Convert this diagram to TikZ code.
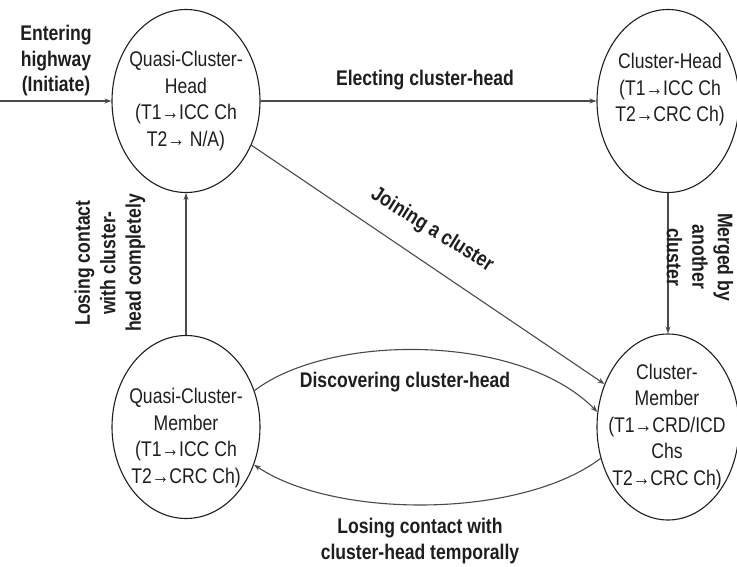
\documentclass[tikz,border=0pt]{standalone}
\usepackage{fontspec}
\setmainfont{Liberation Sans}[FakeStretch=0.83]
\usetikzlibrary{shapes.geometric,arrows.meta}
\definecolor{ink}{HTML}{1E1E1E}
\definecolor{edge}{HTML}{4A4A4A}
\begin{document}
\begin{tikzpicture}[x=1pt,y=-1pt,
  state/.style={draw=ink,line width=1.1pt,ellipse,inner sep=0pt,
    minimum width=148pt,minimum height=183pt},
  statetext/.style={text=ink,align=center,inner sep=0pt,
    font=\fontsize{21.2}{26.5}\selectfont},
  elabel/.style={text=ink,align=center,inner sep=0pt,
    font=\fontsize{21.2}{25.5}\selectfont\bfseries},
  arr/.style={draw=edge,line width=1.1pt,-{Stealth[length=7pt,width=5pt]}}]
\useasboundingbox (0,0) rectangle (737,567);

% states
\node[state] (qch) at (186,101) {};
\node[state,minimum width=142pt] (ch) at (668,101) {};
\node[state] (qcm) at (186,427) {};
\node[state,minimum width=142pt,minimum height=186pt] (cm) at (668,427) {};

\node[statetext] (qcht) at (186,101) {Quasi-Cluster-\\Head\\(T1→ICC Ch\\T2→ N/A)};
\node[statetext] (cht) at (670,90) {Cluster-Head\\(T1→ICC Ch\\T2→CRC Ch)};
\node[statetext] (qcmt) at (186,438) {Quasi-Cluster-\\Member\\(T1→ICC Ch\\T2→CRC Ch)};
\node[statetext] (cmt) at (667,427) {Cluster-\\Member\\(T1→CRD/ICD\\Chs\\T2→CRC Ch)};

% transitions
\coordinate (entry) at (0,101);
\draw[arr] (entry) -- (qch);
\draw[arr] (qch) -- (ch);
\draw[arr] (qch) -- (cm);
\draw[arr] (ch) -- (cm);
\draw[arr] (qcm) -- (qch);
\draw[arr] (qcm.28) .. controls (330,333) and (520,333) .. (cm.168);
\draw[arr] (cm.205) .. controls (520,519) and (335,519) .. (qcm.-29);

% transition labels
\node[elabel] (lentry) at (56,61) {Entering\\highway\\(Initiate)};
\node[elabel] (lelect) at (425,80) {Electing cluster-head};
\node[elabel,rotate=-32] (ljoin) at (432,230) {Joining a cluster};
\node[elabel,rotate=90] (llose) at (110,263) {Losing contact\\with cluster-\\head completely};
\node[elabel,rotate=-90] (lmerge) at (700,257) {Merged by\\another\\cluster};
\node[elabel] (ldisc) at (405,382) {Discovering cluster-head};
\node[elabel] (ltemp) at (420,541) {Losing contact with\\cluster-head temporally};
\end{tikzpicture}
\end{document}
